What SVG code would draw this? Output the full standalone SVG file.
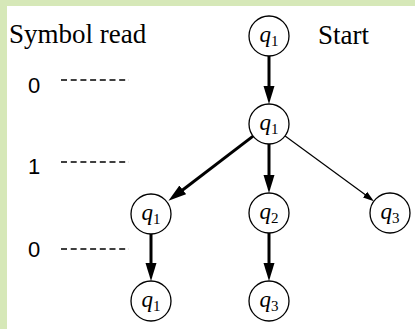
<svg xmlns="http://www.w3.org/2000/svg" width="415" height="329" viewBox="0 0 415 329">
  <style>
    .node circle { fill: #ffffff; stroke: #000000; stroke-width: 1.3; }
    .node text { font-family: "Liberation Serif", serif; font-size: 23px; font-style: italic; text-anchor: middle; fill: #000; }
    .node .sub { font-style: normal; font-size: 15px; }
    .heading { font-family: "Liberation Serif", serif; font-size: 27px; fill: #000; }
    .digit { font-family: "Liberation Sans", sans-serif; font-size: 22px; fill: #000; }
    .guide { stroke: #000; stroke-width: 1.3; stroke-dasharray: 6 3.7; }
    .thick { stroke: #000; stroke-width: 3; fill: none; marker-end: url(#headBig); }
    .thin { stroke: #000; stroke-width: 1.2; fill: none; marker-end: url(#headSmall); }
  </style>
  <defs>
    <marker id="headBig" markerUnits="userSpaceOnUse" markerWidth="19" markerHeight="12" refX="8" refY="6" orient="auto">
      <path d="M0,0.5 L18,6 L0,11.5 z" fill="#000"/>
    </marker>
    <marker id="headSmall" markerUnits="userSpaceOnUse" markerWidth="12" markerHeight="8" refX="5" refY="4" orient="auto">
      <path d="M0,0.5 L11,4 L0,7.5 z" fill="#000"/>
    </marker>
  </defs>

  <!-- frame -->
  <rect x="0" y="0" width="415" height="329" fill="#d6e8b8"/>
  <rect x="7" y="6" width="408" height="323" fill="#ffffff"/>

  <!-- column headings -->
  <text class="heading" x="9" y="43">Symbol read</text>
  <text class="heading" x="318" y="44">Start</text>

  <!-- input symbols with guide lines -->
  <g id="symbols">
    <text class="digit" x="28" y="93">0</text>
    <line class="guide" x1="61" y1="80" x2="129" y2="80"/>
    <text class="digit" x="28" y="174">1</text>
    <line class="guide" x1="61" y1="162" x2="129" y2="162"/>
    <text class="digit" x="28" y="257">0</text>
    <line class="guide" x1="61" y1="249" x2="129" y2="249"/>
  </g>

  <!-- transitions -->
  <g id="connectors">
    <line class="thick" x1="269" y1="56" x2="269" y2="94"/>
    <line class="thick" x1="253.1" y1="136.1" x2="176.4" y2="194.7"/>
    <line class="thick" x1="269" y1="144" x2="269" y2="183"/>
    <line class="thin" x1="285.1" y1="135.9" x2="369.1" y2="197.6"/>
    <line class="thick" x1="151" y1="234" x2="151" y2="271"/>
    <line class="thick" x1="269" y1="233" x2="269" y2="271"/>
  </g>

  <!-- states -->
  <g id="n-start" class="node">
    <circle cx="269" cy="36" r="20"/>
    <text x="269" y="42">q<tspan class="sub" dy="4">1</tspan></text>
  </g>
  <g id="n-mid" class="node">
    <circle cx="269" cy="124" r="20"/>
    <text x="269" y="130">q<tspan class="sub" dy="4">1</tspan></text>
  </g>
  <g id="n-left" class="node">
    <circle cx="151" cy="214" r="20"/>
    <text x="151" y="220">q<tspan class="sub" dy="4">1</tspan></text>
  </g>
  <g id="n-center" class="node">
    <circle cx="269" cy="213" r="20"/>
    <text x="269" y="219">q<tspan class="sub" dy="4">2</tspan></text>
  </g>
  <g id="n-right" class="node">
    <circle cx="390" cy="213" r="20"/>
    <text x="390" y="219">q<tspan class="sub" dy="4">3</tspan></text>
  </g>
  <g id="n-left-bottom" class="node">
    <circle cx="151" cy="301" r="20"/>
    <text x="151" y="307">q<tspan class="sub" dy="4">1</tspan></text>
  </g>
  <g id="n-center-bottom" class="node">
    <circle cx="269" cy="301" r="20"/>
    <text x="269" y="307">q<tspan class="sub" dy="4">3</tspan></text>
  </g>
</svg>
